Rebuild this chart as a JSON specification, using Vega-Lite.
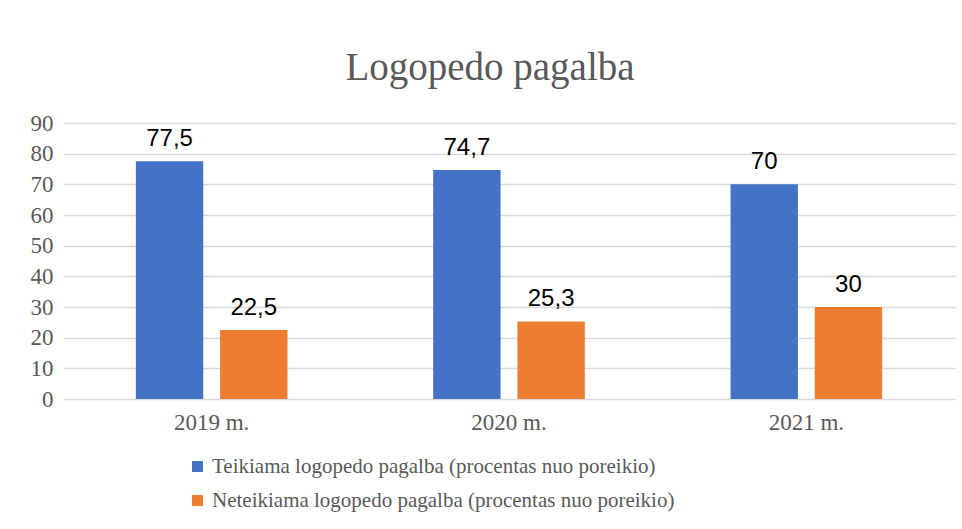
{
  "$schema": "https://vega.github.io/schema/vega-lite/v6.json",
  "width": 892,
  "height": 276,
  "autosize": {"type": "none"},
  "padding": {"left": 63, "top": 123, "right": 7, "bottom": 130},
  "background": "white",
  "title": {
    "text": "Logopedo pagalba",
    "font": "Liberation Serif",
    "fontSize": 39,
    "fontWeight": "normal",
    "color": "#595959",
    "anchor": "middle",
    "dx": -19,
    "offset": 24
  },
  "data": {
    "values": [
      {"year": "2019 m.", "series": "Teikiama logopedo pagalba (procentas nuo poreikio)", "value": 77.5, "label": "77,5"},
      {"year": "2019 m.", "series": "Neteikiama logopedo pagalba (procentas nuo poreikio)", "value": 22.5, "label": "22,5"},
      {"year": "2020 m.", "series": "Teikiama logopedo pagalba (procentas nuo poreikio)", "value": 74.7, "label": "74,7"},
      {"year": "2020 m.", "series": "Neteikiama logopedo pagalba (procentas nuo poreikio)", "value": 25.3, "label": "25,3"},
      {"year": "2021 m.", "series": "Teikiama logopedo pagalba (procentas nuo poreikio)", "value": 70, "label": "70"},
      {"year": "2021 m.", "series": "Neteikiama logopedo pagalba (procentas nuo poreikio)", "value": 30, "label": "30"}
    ]
  },
  "encoding": {
    "x": {
      "field": "year", "type": "nominal", "title": null,
      "scale": {"paddingInner": 0.49, "paddingOuter": 0.245},
      "axis": {"labelAngle": 0, "labelFont": "Liberation Serif", "labelFontSize": 23, "labelColor": "#595959", "labelPadding": 12, "domain": false, "ticks": false}
    },
    "xOffset": {
      "field": "series", "type": "nominal",
      "sort": ["Teikiama logopedo pagalba (procentas nuo poreikio)", "Neteikiama logopedo pagalba (procentas nuo poreikio)"],
      "scale": {"paddingInner": 0.2, "paddingOuter": 0}
    },
    "y": {
      "field": "value", "type": "quantitative", "title": null,
      "scale": {"domain": [0, 90], "nice": false},
      "axis": {"values": [0, 10, 20, 30, 40, 50, 60, 70, 80, 90], "labelFont": "Liberation Serif", "labelFontSize": 23, "labelColor": "#595959", "labelPadding": 10, "domain": false, "ticks": false, "gridColor": "#d9d9d9", "gridWidth": 1.5}
    }
  },
  "layer": [
    {
      "mark": {"type": "bar"},
      "encoding": {
        "color": {
          "field": "series", "type": "nominal",
          "sort": ["Teikiama logopedo pagalba (procentas nuo poreikio)", "Neteikiama logopedo pagalba (procentas nuo poreikio)"],
          "scale": {"range": ["#4472C4", "#ED7D31"]},
          "legend": {
            "title": null,
            "orient": "none",
            "legendX": 124,
            "legendY": 333,
            "direction": "vertical",
            "symbolType": "square",
            "symbolSize": 121,
            "symbolStrokeWidth": 0,
            "labelFont": "Liberation Serif",
            "labelFontSize": 21,
            "labelColor": "#595959",
            "labelLimit": 800,
            "rowPadding": 12,
            "padding": 0
          }
        }
      }
    },
    {
      "mark": {"type": "text", "font": "Liberation Sans", "fontSize": 24, "color": "#000000", "baseline": "alphabetic", "dy": -15},
      "encoding": {
        "text": {"field": "label"}
      }
    }
  ],
  "config": {"view": {"stroke": null}}
}
